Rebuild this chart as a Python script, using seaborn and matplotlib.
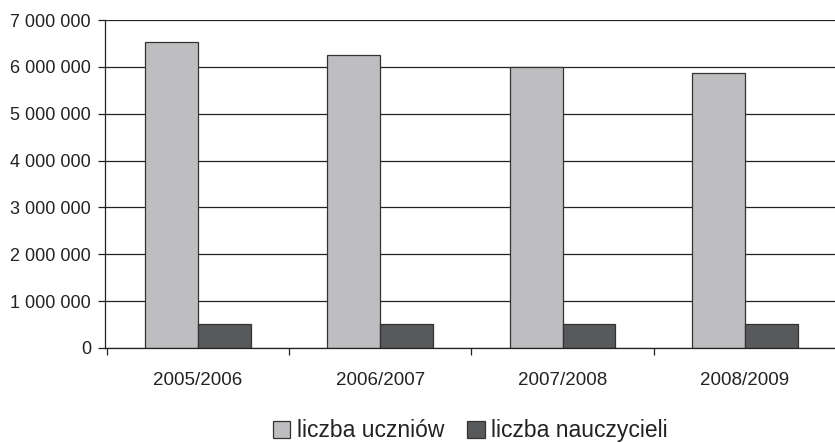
import matplotlib
matplotlib.use("Agg")
import matplotlib.pyplot as plt
import seaborn as sns
import pandas as pd
import numpy as np
from matplotlib.ticker import FuncFormatter, FixedLocator

years = ["2005/2006", "2006/2007", "2007/2008", "2008/2009"]
uczniowie = [6530000, 6250000, 6000000, 5860000]
nauczyciele = [505000, 505000, 505000, 505000]
series_names = ["liczba uczniów", "liczba nauczycieli"]
colors = ["#bdbec2", "#58595b"]

df = pd.DataFrame({
    "rok": years * 2,
    "wartosc": uczniowie + nauczyciele,
    "seria": [series_names[0]] * 4 + [series_names[1]] * 4,
})

sns.set_style("white")
plt.rcParams["font.family"] = ["Liberation Sans", "DejaVu Sans"]

fig = plt.figure(figsize=(8.35, 4.43), dpi=100)
ax = fig.add_axes([105 / 835, 1 - 348 / 443, (836 - 105) / 835, 328 / 443])

sns.barplot(data=df, x="rok", y="wartosc", hue="seria", palette=colors,
            width=0.58, edgecolor="#333333", linewidth=0.9, ax=ax,
            legend=True, gap=0)

ax.set_ylim(0, 7000000)
ax.set_xlim(-0.51, 3.5)
ax.set_yticks(np.arange(0, 7000001, 1000000))
ax.yaxis.set_major_formatter(FuncFormatter(lambda v, p: f"{int(v):,}".replace(",", " ")))
ax.yaxis.grid(True, color="#222222", linewidth=0.9)
ax.set_axisbelow(True)
ax.set_xlabel("")
ax.set_ylabel("")

for s in ["top", "right"]:
    ax.spines[s].set_visible(False)
for s in ["left", "bottom"]:
    ax.spines[s].set_color("#222222")
    ax.spines[s].set_linewidth(0.9)

ax.tick_params(axis="y", which="major", left=True, length=5, width=0.9,
               color="#222222", labelsize=13, labelcolor="#222222", pad=5)
ax.tick_params(axis="x", which="major", length=0, labelsize=13.5, labelcolor="#222222", pad=17)
ax.xaxis.set_minor_locator(FixedLocator([-0.5, 0.5, 1.5, 2.5, 3.5]))
ax.tick_params(axis="x", which="minor", bottom=True, length=5, width=0.9, color="#222222")

handles, labels = ax.get_legend_handles_labels()
ax.legend(handles, labels, loc="center", bbox_to_anchor=(0.5, -0.253),
          ncol=2, frameon=False, fontsize=16.5, handlelength=0.75, handleheight=0.75,
          handletextpad=0.3, columnspacing=1.0, labelcolor="#222222",
          borderpad=0.1)

fig.savefig("out.png", dpi=100)
